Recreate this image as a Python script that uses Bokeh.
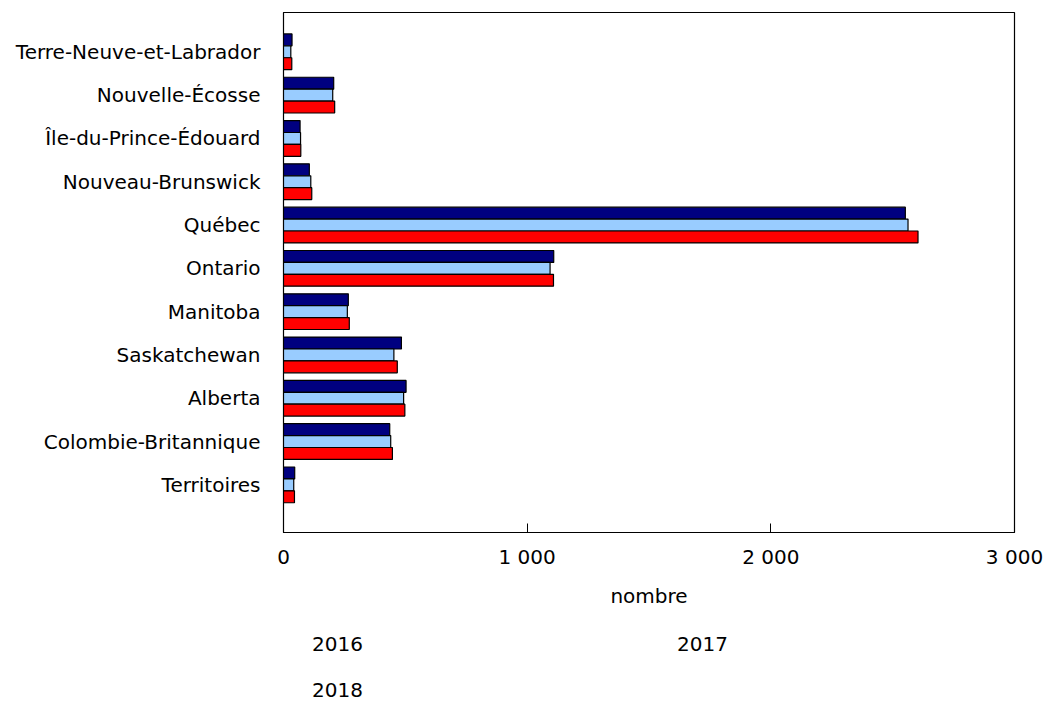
from bokeh.plotting import figure
from bokeh.models import (ColumnDataSource, Range1d, FixedTicker, Legend, LegendItem,
                          CDSView, IndexFilter)
from bokeh.layouts import column
from bokeh.transform import dodge
from bokeh.embed import file_html
from bokeh.resources import INLINE

provinces = ["Terre-Neuve-et-Labrador", "Nouvelle-Écosse", "Île-du-Prince-Édouard",
             "Nouveau-Brunswick", "Québec", "Ontario", "Manitoba", "Saskatchewan",
             "Alberta", "Colombie-Britannique", "Territoires"]
years = ["2016", "2017", "2018"]
v2016 = [35, 206, 68, 106, 2552, 1109, 266, 484, 503, 436, 46]
v2017 = [30, 202, 70, 112, 2563, 1094, 262, 453, 493, 440, 42]
v2018 = [34, 210, 71, 116, 2604, 1108, 270, 467, 498, 447, 45]
colors = ["#000080", "#99CCFF", "#FF0000"]
x_ticks = [0, 1000, 2000, 3000]
x_tick_labels = ["0", "1 000", "2 000", "3 000"]
x_label = "nombre"

FONT = "DejaVu Sans"
FS = "20px"

idx = list(range(len(provinces)))
src = ColumnDataSource(dict(idx=idx, v2016=v2016, v2017=v2017, v2018=v2018))

bar_h = 0.275
offsets = [-bar_h, 0.0, bar_h]

# ---- main chart ----
p = figure(frame_width=731, frame_height=520, output_backend="svg", toolbar_location=None,
           x_range=Range1d(0, 3000), y_range=Range1d(11.10, -0.908),
           min_border_left=283, min_border_right=29, min_border_top=12,
           min_border_bottom=0)

for yr, col, off in zip(years, colors, offsets):
    p.hbar(y=dodge("idx", off), right="v" + yr, left=0, height=bar_h,
           source=src, fill_color=col, line_color="black", line_width=1.2)

p.xgrid.visible = False
p.ygrid.visible = False
p.outline_line_color = "black"
p.outline_line_width = 1.2
p.outline_line_alpha = 1.0

xa = p.xaxis[0]
xa.ticker = FixedTicker(ticks=x_ticks)
xa.major_label_overrides = {t: l for t, l in zip(x_ticks, x_tick_labels)}
xa.major_tick_in = 9
xa.major_tick_out = 0
xa.minor_tick_line_color = None
xa.axis_line_color = "black"
xa.major_tick_line_color = "black"
xa.major_label_text_font = FONT
xa.major_label_text_font_size = FS
xa.major_label_text_color = "black"
xa.major_label_standoff = 12
xa.axis_label = x_label
xa.axis_label_text_font = FONT
xa.axis_label_text_font_size = FS
xa.axis_label_text_font_style = "normal"
xa.axis_label_text_color = "black"
xa.axis_label_standoff = 12

ya = p.yaxis[0]
ya.ticker = FixedTicker(ticks=idx)
ya.major_label_overrides = {i: n for i, n in zip(idx, provinces)}
ya.major_tick_line_color = None
ya.major_tick_in = 0
ya.major_tick_out = 0
ya.minor_tick_line_color = None
ya.axis_line_color = "black"
ya.major_label_text_font = FONT
ya.major_label_text_font_size = FS
ya.major_label_text_color = "black"
ya.major_label_standoff = 23

# ---- legend strip: same series, empty view so only the legend swatches show ----
p2 = figure(frame_width=731, frame_height=72, output_backend="svg", toolbar_location=None,
            x_range=Range1d(0, 3000), y_range=Range1d(11.10, -0.908),
            x_axis_location=None, y_axis_location=None,
            min_border_left=283, min_border_right=29, min_border_top=22,
            min_border_bottom=0)
p2.outline_line_color = None
p2.grid.visible = False

empty_view = CDSView(filter=IndexFilter(indices=[]))
leg_renderers = []
for yr, col, off in zip(years, colors, offsets):
    r = p2.hbar(y=dodge("idx", off), right="v" + yr, left=0, height=bar_h,
                source=src, view=empty_view, fill_color=col, line_color="black",
                line_width=1.2)
    leg_renderers.append(r)

items = [LegendItem(label=yr, renderers=[r]) for yr, r in zip(years, leg_renderers)]
legend = Legend(items=items, orientation="horizontal", ncols=2, location="top_left",
                margin=0, padding=0, spacing=22, border_line_color=None,
                background_fill_alpha=0,
                glyph_width=20, glyph_height=20, label_standoff=9,
                label_width=314, label_height=20,
                label_text_font=FONT, label_text_font_size=FS, label_text_color="black")
p2.add_layout(legend, "center")

layout = column(p, p2, spacing=0)

open("out.html", "w").write(file_html(layout, INLINE))
